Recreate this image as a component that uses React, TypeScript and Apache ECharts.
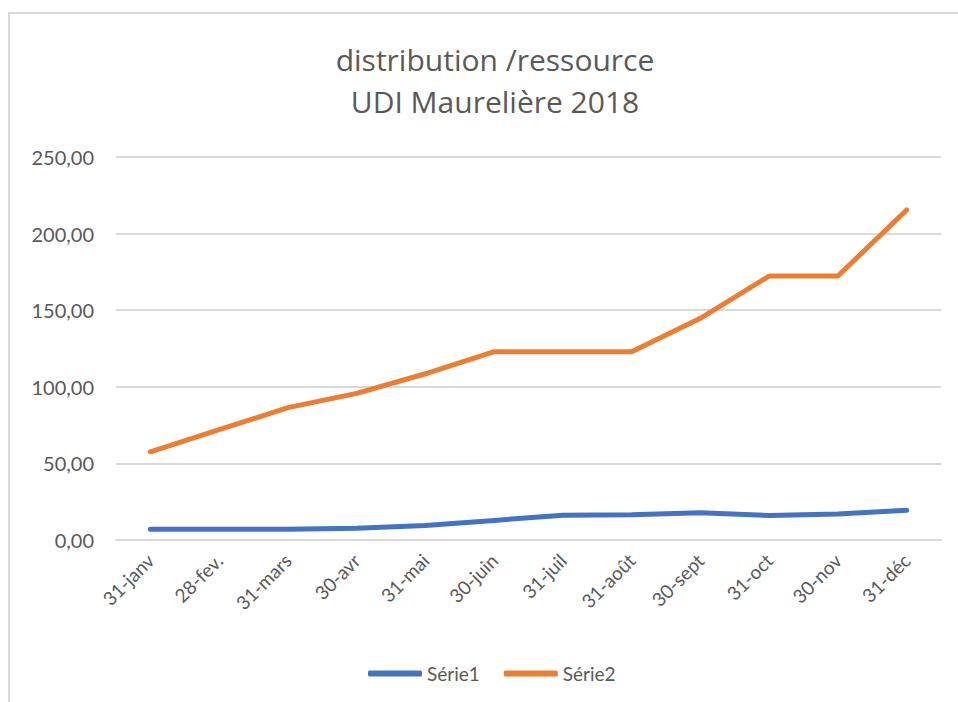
import React, { useEffect, useRef } from "react";
import * as echarts from "echarts";

const categories = [
  "31-janv", "28-fev.", "31-mars", "30-avr", "31-mai", "30-juin",
  "31-juil", "31-août", "30-sept", "31-oct", "30-nov", "31-déc",
];
const serie1 = [7.0, 7.0, 7.0, 7.7, 9.5, 12.8, 16.2, 16.5, 17.8, 16.0, 17.0, 19.4];
const serie2 = [57.6, 72.0, 86.4, 95.7, 108.5, 122.9, 122.9, 122.9, 144.7, 172.3, 172.3, 215.4];
const seriesNames = ["Série1", "Série2"];
const titleLines = ["distribution /ressource", "UDI Maurelière 2018"];

const FONT = "Lato, 'Open Sans', sans-serif";
const TITLE_FONT = "'Open Sans', sans-serif";
const TEXT = "#595959";
const GRID = "#d9d9d9";

export default function App() {
  const ref = useRef<HTMLDivElement>(null);
  useEffect(() => {
    if (!ref.current) return;
    const chart = echarts.init(ref.current, null, { renderer: "svg" });
    chart.setOption({
      animation: false,
      backgroundColor: "#ffffff",
      textStyle: { fontFamily: FONT },
      title: {
        text: titleLines.join("\n"),
        left: 490,
        top: 33,
        textAlign: "center",
        textStyle: {
          fontFamily: TITLE_FONT,
          fontSize: 30,
          fontWeight: "normal",
          color: TEXT,
          lineHeight: 42,
        },
      },
      graphic: [
        {
          type: "rect",
          shape: { x: 9, y: 13, width: 1000, height: 1000 },
          style: { fill: "none", stroke: GRID, lineWidth: 2 },
          silent: true,
        },
      ],
      legend: {
        left: 363,
        top: 659,
        icon: "roundRect",
        itemWidth: 54,
        itemHeight: 6,
        itemGap: 24,
        textStyle: { fontFamily: FONT, fontSize: 19, color: TEXT },
        data: seriesNames,
      },
      grid: { left: 116, right: 17, top: 157, bottom: 162, containLabel: false },
      xAxis: {
        type: "category",
        data: categories,
        boundaryGap: true,
        axisLine: { show: true, lineStyle: { color: GRID, width: 2 } },
        axisTick: { show: false },
        axisLabel: {
          rotate: 45,
          margin: 17,
          fontFamily: FONT,
          fontSize: 19,
          color: TEXT,
          interval: 0,
        },
      },
      yAxis: {
        type: "value",
        min: 0,
        max: 250,
        interval: 50,
        axisLine: { show: false },
        axisTick: { show: false },
        splitLine: { lineStyle: { color: GRID, width: 2 } },
        axisLabel: {
          margin: 22,
          fontFamily: FONT,
          fontSize: 20,
          color: TEXT,
          formatter: (v: number) => v.toFixed(2).replace(".", ","),
        },
      },
      series: [
        {
          name: seriesNames[0],
          type: "line",
          data: serie1,
          showSymbol: false,
          symbol: "none",
          color: "#4472C4",
          lineStyle: { color: "#4472C4", width: 5, cap: "round", join: "round" },
        },
        {
          name: seriesNames[1],
          type: "line",
          data: serie2,
          showSymbol: false,
          symbol: "none",
          color: "#ED7D31",
          lineStyle: { color: "#ED7D31", width: 5, cap: "round", join: "round" },
        },
      ],
    });
    return () => chart.dispose();
  }, []);
  return (
    <div
      ref={ref}
      style={{ position: "fixed", left: 0, top: 0, width: 958, height: 702 }}
    />
  );
}
